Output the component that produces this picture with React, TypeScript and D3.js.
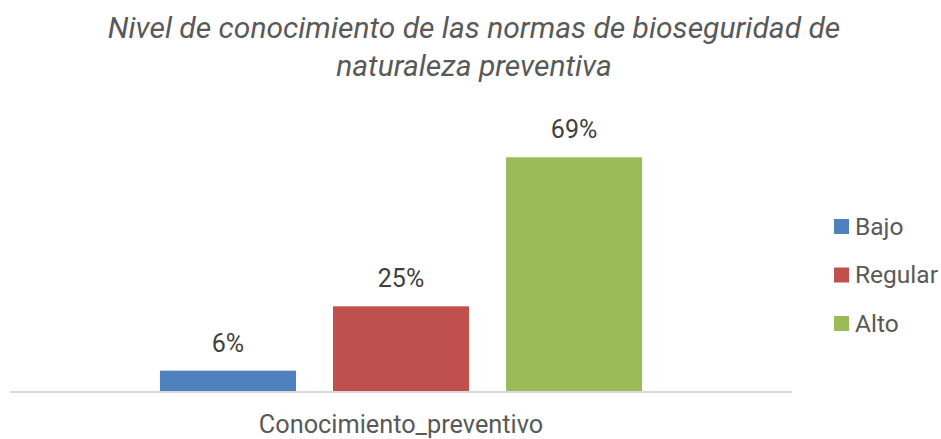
import { useEffect, useRef } from 'react'
import * as d3 from 'd3'

const titleLines = ['Nivel de conocimiento de las normas de bioseguridad de', 'naturaleza preventiva']
const categories = ['Conocimiento_preventivo']
const seriesNames = ['Bajo', 'Regular', 'Alto']
const seriesValues = [6, 25, 69]
const seriesColors = ['#4F81BD', '#C0504D', '#9BBB59']

const WIDTH = 941
const HEIGHT = 439
const FONT = 'Roboto, "Liberation Sans", sans-serif'
const TEXT = '#595959'

export default function App() {
  const svgRef = useRef<SVGSVGElement>(null)

  useEffect(() => {
    document.body.style.margin = '0'
    if (!svgRef.current) return

    const svg = d3.select(svgRef.current)
    svg.selectAll('*').remove()
    svg.attr('width', WIDTH).attr('height', HEIGHT).style('background', '#fff')

    const plot = { left: 10, right: 792, top: 120, bottom: 391 }

    // title
    svg.append('text')
      .attr('x', 474)
      .attr('y', 38)
      .attr('text-anchor', 'middle')
      .style('font-family', FONT)
      .style('font-style', 'italic')
      .style('font-size', '30px')
      .style('fill', TEXT)
      .selectAll('tspan')
      .data(titleLines)
      .join('tspan')
      .attr('x', 474)
      .attr('dy', (_, i) => (i === 0 ? 0 : 38))
      .text(d => d)

    const x0 = d3.scaleBand<string>()
      .domain(categories)
      .range([plot.left, plot.right])
      .paddingInner(0)
      .paddingOuter(0.311)

    const x1 = d3.scaleBand<string>()
      .domain(seriesNames)
      .range([0, x0.bandwidth()])
      .paddingInner(0.214)
      .paddingOuter(0)

    const y = d3.scaleLinear().domain([0, 80]).range([plot.bottom, plot.top])

    const g = svg.append('g')

    categories.forEach(cat => {
      const gx = x0(cat) as number
      seriesNames.forEach((name, i) => {
        const v = seriesValues[i]
        const bx = gx + (x1(name) as number)
        g.append('rect')
          .attr('x', bx)
          .attr('y', y(v))
          .attr('width', x1.bandwidth())
          .attr('height', y(0) - y(v))
          .attr('fill', seriesColors[i])

        g.append('text')
          .attr('x', bx + x1.bandwidth() / 2)
          .attr('y', y(v) - 19)
          .attr('text-anchor', 'middle')
          .style('font-family', FONT)
          .style('font-size', '25px')
          .style('fill', '#404040')
          .text(`${v}%`)
      })

      g.append('text')
        .attr('x', gx + x0.bandwidth() / 2)
        .attr('y', 433)
        .attr('text-anchor', 'middle')
        .style('font-family', FONT)
        .style('font-size', '25.3px')
        .style('fill', TEXT)
        .text(cat)
    })

    // category axis line
    g.append('line')
      .attr('x1', plot.left)
      .attr('x2', plot.right)
      .attr('y1', plot.bottom + 1)
      .attr('y2', plot.bottom + 1)
      .attr('stroke', '#D9D9D9')
      .attr('stroke-width', 2)

    // legend
    const legend = svg.append('g').attr('transform', 'translate(834,219)')
    seriesNames.forEach((name, i) => {
      const row = legend.append('g').attr('transform', `translate(0,${i * 48.5})`)
      row.append('rect')
        .attr('width', 15)
        .attr('height', 15)
        .attr('fill', seriesColors[i])
      row.append('text')
        .attr('x', 21)
        .attr('y', 15.5)
        .style('font-family', FONT)
        .style('font-size', '24.5px')
        .style('fill', TEXT)
        .text(name)
    })
  }, [])

  return (
    <div>
      <svg ref={svgRef} style={{ display: 'block' }} />
    </div>
  )
}
